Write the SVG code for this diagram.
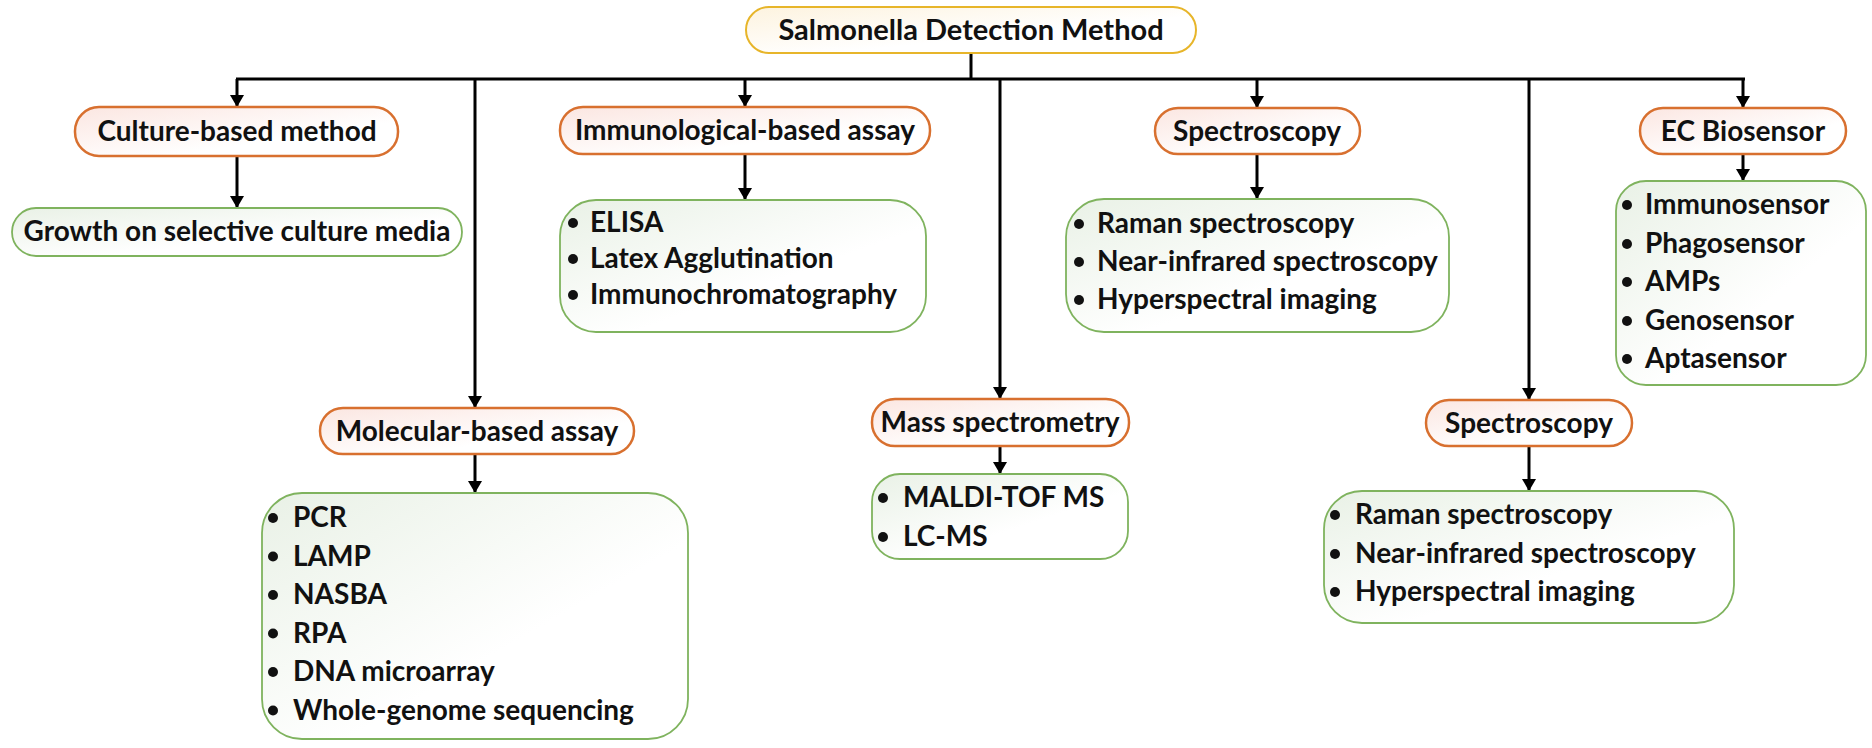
<svg xmlns="http://www.w3.org/2000/svg" width="1872" height="748" viewBox="0 0 1872 748">
<defs>
<linearGradient id="gTop" x1="0" y1="0" x2="1" y2="1"><stop offset="0" stop-color="#fdf3df"/><stop offset="0.6" stop-color="#ffffff"/></linearGradient>
<linearGradient id="gOr" x1="0" y1="0" x2="1" y2="1"><stop offset="0" stop-color="#fbe6e1"/><stop offset="0.65" stop-color="#ffffff"/></linearGradient>
<linearGradient id="gGr" x1="0" y1="0" x2="1" y2="1"><stop offset="0" stop-color="#e9f1e6"/><stop offset="0.6" stop-color="#ffffff"/></linearGradient>
<marker id="arr" viewBox="0 0 12 14" refX="12" refY="7" markerWidth="12" markerHeight="14" markerUnits="userSpaceOnUse" orient="auto"><path d="M0,0 L12,7 L0,14 z" fill="#000"/></marker>
</defs>
<style>
text{font-family:Lato,"Open Sans","Liberation Sans",sans-serif;font-weight:bold;fill:#111;}
.t{font-size:29px;text-anchor:middle;}
.l{font-size:28px;text-anchor:middle;}
.i{font-size:28px;}
.top{fill:url(#gTop);stroke:#e7b52a;stroke-width:2;}
.lab{fill:url(#gOr);stroke:#d8702f;stroke-width:2.5;}
.lst{fill:url(#gGr);stroke:#7fb35e;stroke-width:1.8;}
.c{stroke:#000;stroke-width:3;fill:none;}
.ca{stroke:#000;stroke-width:3;fill:none;marker-end:url(#arr);}
.b{fill:#111;}
</style>
<rect width="1872" height="748" fill="#fff"/>
<g id="connectors">
<line class="c" x1="971" y1="53" x2="971" y2="79"/>
<line class="c" x1="236" y1="79" x2="1745" y2="79"/>
<line class="ca" x1="237" y1="79" x2="237" y2="107"/>
<line class="ca" x1="475" y1="79" x2="475" y2="408"/>
<line class="ca" x1="745" y1="79" x2="745" y2="107"/>
<line class="ca" x1="1000" y1="79" x2="1000" y2="399"/>
<line class="ca" x1="1257" y1="79" x2="1257" y2="108"/>
<line class="ca" x1="1529" y1="79" x2="1529" y2="400"/>
<line class="ca" x1="1743" y1="79" x2="1743" y2="108"/>
<line class="ca" x1="237" y1="156" x2="237" y2="208"/>
<line class="ca" x1="745" y1="154" x2="745" y2="200"/>
<line class="ca" x1="475" y1="454" x2="475" y2="493"/>
<line class="ca" x1="1000" y1="446" x2="1000" y2="474"/>
<line class="ca" x1="1257" y1="154" x2="1257" y2="199"/>
<line class="ca" x1="1529" y1="446" x2="1529" y2="491"/>
<line class="ca" x1="1743" y1="154" x2="1743" y2="181"/>
</g>
<g id="root"><rect class="top" x="746" y="7" width="450" height="46" rx="23"/><text class="t" x="971" y="40">Salmonella Detection Method</text></g>
<g id="culture"><rect class="lab" x="75" y="107" width="323" height="49" rx="24"/><text class="l" x="237" y="141">Culture-based method</text></g>
<g id="culture-list"><rect class="lst" x="12" y="208" width="450" height="48" rx="24"/><text class="l" x="237" y="241">Growth on selective culture media</text></g>
<g id="immuno"><rect class="lab" x="560" y="107" width="370" height="47" rx="23"/><text class="l" x="745" y="140">Immunological-based assay</text></g>
<g id="immuno-list"><rect class="lst" x="560" y="200" width="366" height="132" rx="36"/>
<circle class="b" cx="573" cy="223" r="5"/><text class="i" x="590" y="232">ELISA</text>
<circle class="b" cx="573" cy="259" r="5"/><text class="i" x="590" y="268">Latex Agglutination</text>
<circle class="b" cx="573" cy="295" r="5"/><text class="i" x="590" y="304">Immunochromatography</text></g>
<g id="molecular"><rect class="lab" x="320" y="408" width="314" height="46" rx="23"/><text class="l" x="477" y="441">Molecular-based assay</text></g>
<g id="molecular-list"><rect class="lst" x="262" y="493" width="426" height="246" rx="40"/>
<circle class="b" cx="273" cy="518" r="5"/><text class="i" x="293" y="527">PCR</text>
<circle class="b" cx="273" cy="556.5" r="5"/><text class="i" x="293" y="565.5">LAMP</text>
<circle class="b" cx="273" cy="595" r="5"/><text class="i" x="293" y="604">NASBA</text>
<circle class="b" cx="273" cy="633.5" r="5"/><text class="i" x="293" y="642.5">RPA</text>
<circle class="b" cx="273" cy="672" r="5"/><text class="i" x="293" y="681">DNA microarray</text>
<circle class="b" cx="273" cy="710.5" r="5"/><text class="i" x="293" y="719.5">Whole-genome sequencing</text></g>
<g id="mass"><rect class="lab" x="872" y="399" width="257" height="47" rx="23"/><text class="l" x="1000" y="432">Mass spectrometry</text></g>
<g id="mass-list"><rect class="lst" x="872" y="474" width="256" height="85" rx="28"/>
<circle class="b" cx="883" cy="498" r="5"/><text class="i" x="903" y="507">MALDI-TOF MS</text>
<circle class="b" cx="883" cy="537" r="5"/><text class="i" x="903" y="546">LC-MS</text></g>
<g id="spectroscopy"><rect class="lab" x="1155" y="108" width="205" height="46" rx="23"/><text class="l" x="1257" y="141">Spectroscopy</text></g>
<g id="spectroscopy-list"><rect class="lst" x="1066" y="199" width="383" height="133" rx="38"/>
<circle class="b" cx="1079" cy="224" r="5"/><text class="i" x="1097" y="233">Raman spectroscopy</text>
<circle class="b" cx="1079" cy="262" r="5"/><text class="i" x="1097" y="271">Near-infrared spectroscopy</text>
<circle class="b" cx="1079" cy="300" r="5"/><text class="i" x="1097" y="309">Hyperspectral imaging</text></g>
<g id="spectroscopy2"><rect class="lab" x="1426" y="400" width="206" height="46" rx="23"/><text class="l" x="1529" y="433">Spectroscopy</text></g>
<g id="spectroscopy2-list"><rect class="lst" x="1324" y="491" width="410" height="132" rx="38"/>
<circle class="b" cx="1335" cy="515" r="5"/><text class="i" x="1355" y="524">Raman spectroscopy</text>
<circle class="b" cx="1335" cy="554" r="5"/><text class="i" x="1355" y="563">Near-infrared spectroscopy</text>
<circle class="b" cx="1335" cy="592" r="5"/><text class="i" x="1355" y="601">Hyperspectral imaging</text></g>
<g id="ec"><rect class="lab" x="1640" y="108" width="206" height="46" rx="23"/><text class="l" x="1743" y="141">EC Biosensor</text></g>
<g id="ec-list"><rect class="lst" x="1616" y="181" width="250" height="204" rx="30"/>
<circle class="b" cx="1627" cy="205" r="5"/><text class="i" x="1645" y="214">Immunosensor</text>
<circle class="b" cx="1627" cy="244" r="5"/><text class="i" x="1645" y="253">Phagosensor</text>
<circle class="b" cx="1627" cy="282" r="5"/><text class="i" x="1645" y="291">AMPs</text>
<circle class="b" cx="1627" cy="321" r="5"/><text class="i" x="1645" y="330">Genosensor</text>
<circle class="b" cx="1627" cy="359" r="5"/><text class="i" x="1645" y="368">Aptasensor</text></g>
</svg>
